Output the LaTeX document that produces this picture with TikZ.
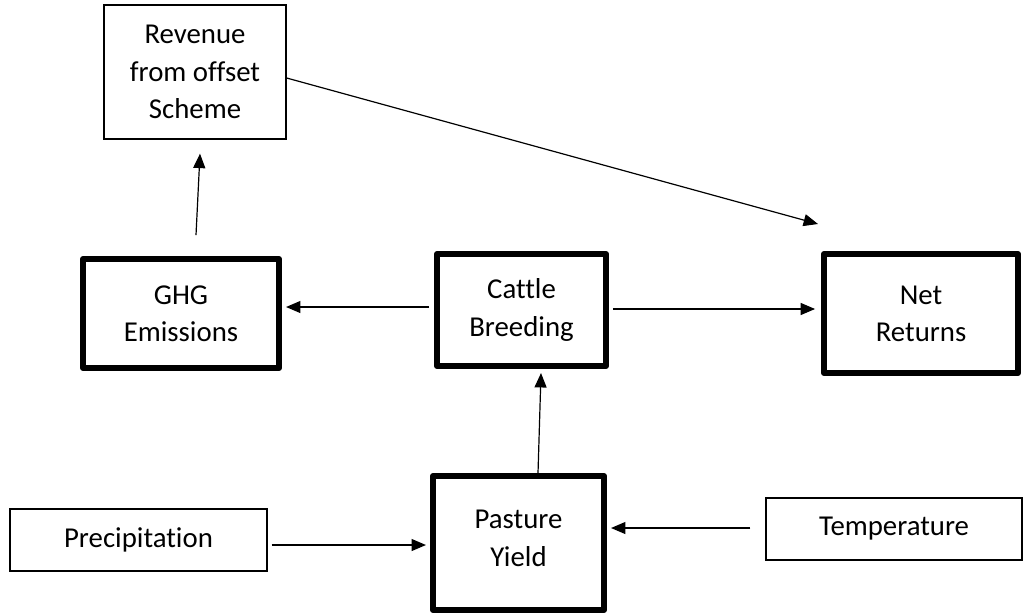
\documentclass[tikz,border=0pt]{standalone}
\usepackage{fontspec}
\setmainfont[Ligatures=NoCommon]{Carlito}
\usetikzlibrary{arrows.meta,calc}
\begin{document}
\begin{tikzpicture}[x=0.4167pt,y=-0.4167pt,
  txt/.style={align=center,font=\fontsize{12}{15.5}\selectfont,inner sep=0pt},
  thinbox/.style={txt,draw,line width=0.6pt},
  thickbox/.style={txt,draw,line width=2.5pt,line join=round},
  arr/.style={line width=0.5pt,-{Triangle[length=6pt,width=5pt]}}]
\useasboundingbox (0,0) rectangle (1031,614);
\node[thinbox,minimum width=75.8pt,minimum height=55.8pt] (rev) at (195,72) {Revenue\\from offset\\Scheme};
\node[thickbox,minimum width=81.7pt,minimum height=45.4pt] (ghg) at (181,313.5) {GHG\\Emissions};
\node[thickbox,minimum width=70.4pt,minimum height=46.7pt] (cattle) at (521.5,310) {Cattle\\Breeding};
\node[thickbox,minimum width=80.8pt,minimum height=49.6pt] (net) at (921,313.5) {Net\\Returns};
\node[thickbox,minimum width=71.3pt,minimum height=55.8pt,text depth=4pt] (pasture) at (518.5,543) {Pasture\\Yield};
\node[thinbox,minimum width=107.1pt,minimum height=25.8pt] (precip) at (138.5,540) {Precipitation};
\node[thinbox,minimum width=106.7pt,minimum height=25.8pt] (temp) at (894,529) {Temperature};
\coordinate (revtip) at (818,224);
\draw[arr] ($(rev.east)+(0,6)$) -- (revtip);
\draw[arr] ($(ghg.north)+(15,-21)$) -- ($(rev.south)+(5,14)$);
\draw[arr] ($(cattle.west)+(-5,-3)$) -- ($(cattle.west -| ghg.east)+(4,-3)$);
\draw[arr] ($(cattle.east)+(4,-1)$) -- ($(cattle.east -| net.west)+(-6,-1)$);
\draw[arr] ($(pasture.north)+(19.5,0)$) -- ($(cattle.south)+(19.5,4)$);
\draw[arr] ($(precip.east)+(4,5)$) -- ($(precip.east -| pasture.west)+(-4,5)$);
\draw[arr] ($(temp.west)+(-15,-1)$) -- ($(temp.west -| pasture.east)+(4,-1)$);
\end{tikzpicture}
\end{document}
